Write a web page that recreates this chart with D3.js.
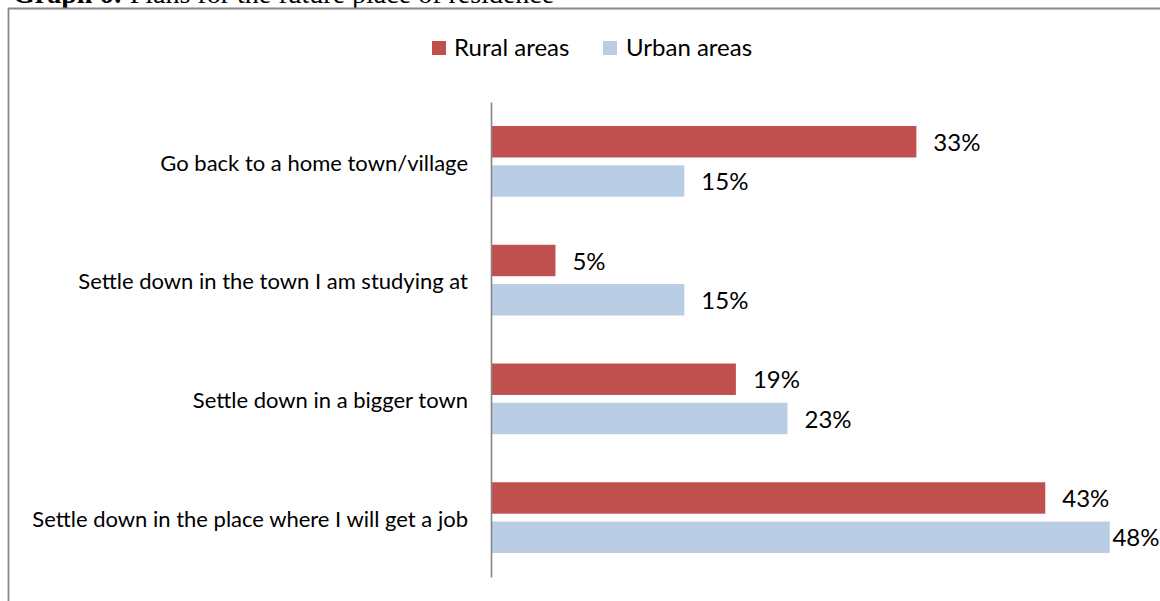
<!DOCTYPE html>
<html>
<head>
<meta charset="utf-8">
<script src="https://cdn.jsdelivr.net/npm/d3@7"></script>
<style>
  html, body { margin: 0; padding: 0; background: #fff; overflow: hidden; }
  svg { display: block; }
</style>
</head>
<body>
<svg id="chart" width="1160" height="601"></svg>
<script>
// Plans for the future place of residence, by area of origin
const categories = [
  "Go back to a home town/village",
  "Settle down in the town I am studying at",
  "Settle down in a bigger town",
  "Settle down in the place where I will get a job"
];
const seriesNames = ["Rural areas", "Urban areas"];
const ruralValues = [0.33, 0.05, 0.19, 0.43];
const urbanValues = [0.15, 0.15, 0.23, 0.48];
const seriesColors = ["#C0504D", "#B9CDE5"];

const rows = categories.map((c, i) => ({
  category: c,
  values: [
    { series: seriesNames[0], value: ruralValues[i] },
    { series: seriesNames[1], value: urbanValues[i] }
  ]
}));

const W = 1160;
const svg = d3.select("#chart");
const FONT = "Lato, 'Open Sans', sans-serif";

// Document caption above the chart frame (partly outside the page)
const caption = svg.append("text")
  .attr("x", 13).attr("y", 3)
  .attr("font-family", "'Liberation Serif', 'Times New Roman', serif")
  .attr("font-size", 28)
  .attr("fill", "#000");
caption.append("tspan").attr("font-weight", "bold").text("Graph 6: ");
caption.append("tspan").text("Plans for the future place of residence");

// Chart frame (left and top edges fall inside the page)
svg.append("path")
  .attr("d", `M8.5,601 V8.5 H${W}`)
  .attr("fill", "none")
  .attr("stroke", "#888888")
  .attr("stroke-width", 1.8);

// Scales
const x = d3.scaleLinear().domain([0, 0.5]).range([491, 1135.5]);
const y = d3.scaleBand().domain(categories).range([102, 577]).paddingInner(0).paddingOuter(0);
const inner = d3.scaleBand().domain(seriesNames)
  .range([24, y.bandwidth() - 24]).paddingInner(0.2).paddingOuter(0);
const color = d3.scaleOrdinal().domain(seriesNames).range(seriesColors);
const fmt = d3.format(".0%");

// Bars
const groups = svg.append("g").selectAll("g")
  .data(rows).join("g")
  .attr("transform", d => `translate(0,${y(d.category)})`);

groups.selectAll("rect")
  .data(d => d.values).join("rect")
  .attr("x", x(0))
  .attr("y", d => inner(d.series))
  .attr("width", d => x(d.value) - x(0))
  .attr("height", inner.bandwidth())
  .attr("fill", d => color(d.series));

// Value labels, pulled inward when they would run past the right edge
groups.selectAll("text.value")
  .data(d => d.values).join("text")
  .attr("class", "value")
  .attr("y", d => inner(d.series) + inner.bandwidth() / 2)
  .attr("dy", "0.38em")
  .attr("font-family", FONT)
  .attr("font-size", 24)
  .attr("fill", "#000")
  .text(d => fmt(d.value))
  .attr("x", function (d) {
    const w = this.getComputedTextLength();
    return Math.min(x(d.value) + 17, W - w - 0.5);
  });

// Category axis
const axis = svg.append("g")
  .attr("transform", `translate(${x(0)},0)`)
  .call(d3.axisLeft(y).tickSize(0).tickSizeOuter(0).tickPadding(23));
axis.select(".domain").attr("stroke", "#868686").attr("stroke-width", 1.6);
axis.selectAll(".tick text")
  .attr("font-family", FONT)
  .attr("font-size", 22)
  .attr("fill", "#000")
  .attr("dy", "0.42em");

// Legend
const legendItems = [
  { name: seriesNames[0], sx: 432, tx: 454 },
  { name: seriesNames[1], sx: 603, tx: 626 }
];
const legend = svg.append("g");
legend.selectAll("rect")
  .data(legendItems).join("rect")
  .attr("x", d => d.sx).attr("y", 41)
  .attr("width", 14).attr("height", 14)
  .attr("fill", d => color(d.name));
legend.selectAll("text")
  .data(legendItems).join("text")
  .attr("x", d => d.tx).attr("y", 56)
  .attr("font-family", FONT)
  .attr("font-size", 24)
  .attr("fill", "#000")
  .text(d => d.name);
</script>
</body>
</html>
